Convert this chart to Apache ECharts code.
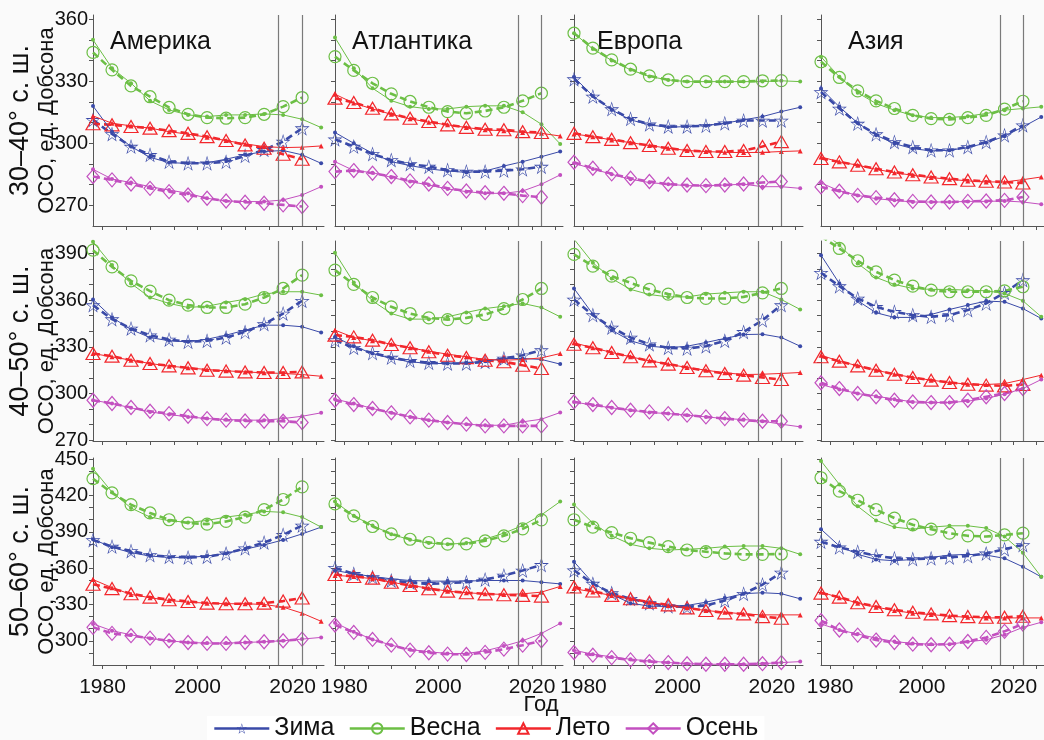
<!DOCTYPE html>
<html><head><meta charset="utf-8">
<script src="https://cdn.jsdelivr.net/npm/echarts@6/dist/echarts.min.js"></script>
<style>html,body{margin:0;padding:0;background:#fff}#c{width:1044px;height:740px}</style>
</head><body><div id="c"></div>
<script>
// ---------- categories / labels ----------
const yearsFit = [1978,1982,1986,1990,1994,1998,2002,2006,2010,2014,2018,2022];
const yearsObs = [1978,1982,1986,1990,1994,1998,2002,2006,2010,2014,2018,2022,2026];
const seasons = ['Зима','Весна','Лето','Осень'];
const regions = ['Америка','Атлантика','Европа','Азия'];
const latBands = ['30–40° с. ш.','40–50° с. ш.','50–60° с. ш.'];
const yLabelVals = [[270,300,330,360],[270,300,330,360,390],[300,330,360,390,420,450]];
const yTickVals = [[270,280,290,300,310,320,330,340,350,360],
                   [270,280,290,300,310,320,330,340,350,360,370,380,390],
                   [290,300,310,320,330,340,350,360,370,380,390,400,410,420,430,440,450]];
const yRanges = [[260,362],[269.5,398],[280,451]];
const xLabelVals = [1980,2000,2020];
const xTickVals = [1980,1985,1990,1995,2000,2005,2010,2015,2020,2025];
const markYears = [2017,2022];

// ---------- values (rows: Зима, Весна, Лето, Осень) ----------
// 30–40° N
const am1Fit = [[311.3,304.5,298.4,294.4,291.1,290.3,290.3,291.1,293.9,296.8,300.8,307.3],
  [343.9,335.5,327.7,322.5,317.3,314.0,312.4,312.1,312.4,314.0,317.7,322.1],
  [309.4,308.9,308.1,307.3,306.1,304.8,303.2,301.3,299.2,297.6,294.7,292.3],
  [283.9,282.3,280.3,278.2,276.6,275.0,273.4,272.1,271.5,271.0,270.2,269.4]];
const am1Obs = [[318.0,305.6,298.4,293.2,290.6,290.3,290.6,292.3,294.4,296.0,296.5,294.4,290.3],
  [350.0,336.3,329.0,320.5,316.1,313.7,312.9,313.7,313.7,314.2,313.7,311.6,307.6],
  [313.2,309.7,308.4,307.3,305.6,304.4,302.9,301.3,299.7,298.4,297.9,298.1,298.7],
  [287.4,282.7,281.0,279.0,277.4,275.8,273.4,272.1,271.8,271.8,272.6,275.0,279.0]];
const at1Fit = [[301.9,298.4,294.8,291.9,290.0,288.7,287.1,286.3,286.3,286.8,287.4,288.7],
  [341.9,335.2,329.0,323.9,320.2,317.4,315.3,314.5,315.6,317.4,320.5,324.2],
  [321.8,319.7,316.9,314.2,312.1,310.5,308.9,307.7,306.8,306.5,305.6,305.2],
  [286.3,286.8,285.5,283.9,281.8,280.3,278.2,276.9,276.1,275.8,274.7,273.9]];
const at1Obs = [[305.2,300.0,295.2,291.1,289.2,287.6,286.6,285.9,286.6,289.0,291.1,293.5,296.0],
  [351.1,336.3,326.6,320.6,317.7,316.6,316.6,317.7,318.1,318.1,315.0,309.2,299.7],
  [323.7,319.4,316.6,314.0,311.8,310.2,308.9,307.6,306.5,306.0,305.2,304.8,303.5],
  [291.1,286.8,285.8,283.5,281.5,279.8,277.9,276.6,275.8,275.8,276.9,280.2,284.7]];
const eu1Fit = [[331.0,322.6,316.5,311.8,309.2,308.1,308.1,308.5,309.7,311.0,311.0,311.0],
  [353.2,346.0,340.3,335.8,332.6,330.6,329.8,329.8,329.8,329.8,330.2,330.3],
  [304.8,303.2,301.9,300.3,298.9,297.6,296.5,296.0,296.0,296.5,298.4,300.8],
  [290.8,287.9,285.2,283.1,281.5,280.2,279.8,279.5,279.8,280.3,281.0,281.5]];
const eu1Obs = [[332.0,322.9,316.1,311.3,308.9,307.7,308.1,308.5,309.7,311.3,312.9,315.3,317.4],
  [353.2,345.6,340.0,335.5,332.3,330.6,329.8,329.8,329.8,329.8,329.8,330.2,329.8],
  [304.5,303.2,301.6,300.3,298.9,297.6,296.5,296.0,295.6,295.5,295.6,296.0,296.3],
  [290.3,287.6,285.0,282.6,281.0,280.2,279.5,279.5,279.8,280.2,279.0,279.0,278.2]];
const as1Fit = [[324.8,316.8,309.5,304.4,300.6,298.2,296.6,296.6,298.2,300.6,303.9,308.7],
  [339.4,331.8,325.3,320.5,316.8,313.5,311.9,311.5,312.4,313.5,316.5,320.3],
  [292.6,291.0,289.4,287.7,286.1,284.8,283.7,282.9,282.1,281.6,281.3,280.8],
  [278.9,276.8,274.8,273.7,272.7,271.9,271.6,271.6,271.9,272.1,272.4,274.0]];
const as1Obs = [[326.5,317.6,309.8,303.9,299.8,297.4,296.3,296.6,297.9,300.2,303.4,307.9,312.7],
  [341.8,332.1,324.4,319.2,316.0,313.5,312.4,312.4,313.1,314.4,316.0,316.8,317.6],
  [293.4,291.0,289.4,287.4,285.8,284.5,283.4,282.6,281.8,281.3,281.3,282.4,283.7],
  [280.8,277.0,274.8,273.2,272.4,271.6,271.6,271.6,271.9,271.9,272.1,271.6,270.5]];
// 40–50° N
const am2Fit = [[356.8,347.8,341.8,337.5,334.7,333.2,333.9,336.0,339.6,344.6,351.4,359.6],
  [392.1,381.4,372.4,365.8,360.0,356.8,355.3,355.3,357.4,361.7,367.5,376.1],
  [325.7,324.0,321.4,319.3,317.8,316.5,315.0,314.4,313.9,313.5,313.5,313.9],
  [295.7,293.6,291.0,288.6,287.1,285.4,283.9,282.9,282.4,282.2,282.2,281.4]];
const am2Obs = [[360.4,348.9,341.1,336.0,333.9,333.2,334.9,337.5,340.7,343.9,343.9,342.9,339.2],
  [397.5,382.5,370.7,361.7,357.9,355.3,356.1,358.5,360.6,363.9,365.4,365.4,363.2],
  [325.7,323.6,321.4,319.3,317.6,316.5,315.4,314.6,313.9,313.3,312.9,312.2,311.1],
  [295.7,293.6,290.8,288.2,286.5,285.0,283.9,283.3,282.9,282.9,283.9,285.4,287.6]];
const at2Fit = [[334.3,329.4,326.1,323.1,321.0,319.7,319.3,319.3,320.4,322.5,324.6,327.9],
  [379.3,370.1,361.7,355.7,351.4,348.6,347.5,348.6,350.8,354.6,360.4,367.5],
  [337.5,336.4,334.3,331.5,329.4,326.8,324.6,323.1,321.4,320.4,318.2,316.1],
  [295.7,292.9,290.4,287.6,285.0,282.9,281.4,280.3,279.2,279.2,279.2,279.2]];
const at2Obs = [[336.4,330.4,325.7,322.5,320.4,319.3,319.3,319.7,320.8,322.5,322.5,321.9,318.9],
  [390.4,371.3,359.6,351.4,347.8,347.8,349.3,352.1,354.6,356.1,357.9,355.3,349.3],
  [340.7,336.0,333.9,331.7,329.4,327.2,325.3,323.6,321.9,321.4,321.9,322.9,325.7],
  [296.4,293.6,290.4,287.6,285.0,282.9,281.4,280.3,279.6,279.6,281.8,283.5,287.8]];
const eu2Fit = [[360.4,350.4,342.4,336.0,331.7,329.4,328.9,330.4,333.9,339.6,347.1,356.8],
  [389.4,381.9,375.4,371.1,366.9,363.9,361.7,361.1,361.1,362.1,364.7,367.5],
  [331.7,329.4,326.4,323.6,321.0,318.9,316.7,314.6,312.9,311.8,310.3,309.0],
  [294.6,292.9,291.0,289.3,288.2,287.1,286.1,285.0,283.9,282.9,282.2,282.2]];
const eu2Obs = [[367.5,351.0,340.7,333.9,330.4,329.4,330.4,332.8,335.4,337.9,338.1,336.0,330.4],
  [399.2,384.0,373.9,366.9,363.6,362.1,362.1,363.9,364.7,365.4,365.4,360.4,354.0],
  [332.6,329.4,326.4,323.6,321.0,318.9,316.7,315.0,313.3,312.2,312.4,312.9,313.5],
  [294.6,292.5,290.8,289.3,287.8,287.1,286.1,285.0,283.9,283.3,282.2,280.3,278.6]];
const as2Fit = [[377.6,369.0,361.1,355.7,352.5,350.4,349.3,350.4,353.6,357.9,364.7,372.9],
  [401.1,393.2,385.3,378.2,372.9,369.0,366.4,365.4,365.4,365.4,366.0,368.6],
  [323.6,320.8,317.8,315.0,312.4,310.3,308.6,307.1,306.0,305.4,304.9,305.8],
  [306.9,303.2,300.0,297.9,295.7,294.6,294.2,294.2,295.7,297.9,300.0,303.2]];
const as2Obs = [[388.9,370.7,359.6,351.9,348.9,348.9,350.8,354.0,356.8,359.4,358.9,354.6,348.2],
  [405.0,395.4,383.6,374.6,370.1,367.5,366.9,366.9,366.4,366.0,364.3,359.6,349.3],
  [324.6,320.8,317.8,315.0,312.4,310.3,308.6,307.1,306.0,305.8,306.4,309.0,311.8],
  [305.8,302.6,300.0,298.3,296.4,294.6,294.2,294.2,295.1,296.8,299.6,303.2,309.0]];
// 50–60° N
const am3Fit = [[383.3,377.8,374.2,370.8,369.4,368.9,369.4,372.2,376.4,381.1,387.5,395.3],
  [433.9,422.2,412.5,405.6,400.0,397.2,396.4,398.6,402.2,408.3,416.7,427.2],
  [346.7,343.1,338.9,336.1,333.9,332.5,331.1,330.6,330.6,331.1,332.8,335.3],
  [311.1,306.1,304.2,302.2,300.0,298.6,297.8,297.8,298.6,299.2,300.0,301.4]];
const am3Obs = [[383.9,377.2,372.8,370.0,368.9,368.9,370.0,372.2,375.6,379.2,383.3,388.3,393.9],
  [442.2,422.8,409.7,402.2,399.2,397.8,399.4,402.2,404.2,406.9,406.1,402.2,393.9],
  [350.6,343.9,338.3,335.6,333.3,331.9,331.1,330.6,330.6,330.0,327.8,322.8,316.1],
  [313.9,308.3,305.0,301.9,300.0,298.6,298.1,298.1,298.6,299.2,300.0,301.4,302.8]];
const at3Fit = [[360.3,355.3,352.6,349.8,348.1,347.0,347.6,348.4,350.6,353.9,358.1,362.7],
  [413.1,403.2,394.4,388.3,383.9,381.2,379.8,380.1,382.6,386.7,392.5,399.9],
  [354.8,353.1,351.8,348.4,345.7,343.0,341.0,339.7,338.8,338.0,337.5,336.9],
  [313.0,306.9,301.1,296.4,292.3,290.1,289.0,288.7,290.4,293.1,296.4,300.0]];
const at3Obs = [[358.1,355.3,353.1,351.2,349.8,349.3,349.3,349.3,349.8,349.8,349.8,348.4,347.0],
  [415.0,403.2,395.2,388.1,383.4,380.7,379.8,380.7,384.0,388.9,395.2,404.0,415.0],
  [354.0,353.1,351.2,348.4,345.7,343.5,341.0,339.7,338.8,338.3,338.8,340.2,344.9],
  [314.9,307.5,301.1,296.4,292.8,290.9,289.5,289.5,291.7,295.6,300.0,306.1,314.3]];
const eu3Fit = [[358.3,347.2,339.4,334.7,331.1,328.6,327.8,329.2,333.3,338.9,346.4,356.4],
  [400.0,393.9,389.4,384.7,381.1,377.8,375.0,373.6,372.2,371.4,371.4,371.7],
  [344.4,341.1,337.5,334.7,331.9,329.7,327.2,325.0,323.1,322.2,320.0,318.6],
  [290.3,288.1,286.1,284.2,282.8,282.0,281.1,280.6,280.6,280.6,281.1,282.0]];
const eu3Obs = [[365.3,347.8,338.3,331.1,328.6,328.3,329.2,331.9,335.3,338.9,339.7,338.9,334.7],
  [412.5,397.2,386.7,379.7,376.4,375.0,375.6,376.4,377.8,378.3,378.3,376.4,371.4],
  [343.1,340.3,337.5,334.7,331.9,329.2,327.2,325.0,323.6,322.2,321.4,321.4,321.4],
  [292.2,288.9,286.7,284.7,283.3,282.0,281.1,280.6,280.6,280.6,281.1,282.0,282.8]];
const as3Fit = [[381.9,377.2,373.6,370.3,368.1,367.5,368.1,368.9,370.0,372.2,375.6,379.2],
  [434.7,423.6,416.1,408.3,401.4,395.8,392.2,388.9,386.7,386.1,387.5,388.9],
  [339.4,336.1,331.4,328.3,325.6,323.6,322.2,320.8,320.0,319.4,319.4,320.3],
  [316.7,308.9,304.7,300.6,298.6,297.2,296.7,297.2,299.4,302.8,307.8,313.9]];
const as3Obs = [[392.2,378.3,371.4,367.2,366.1,367.2,368.9,370.8,371.4,370.8,368.1,361.1,352.8],
  [448.6,429.2,411.1,399.4,393.9,392.2,393.9,395.0,395.0,393.1,386.1,372.8,352.8],
  [340.3,335.6,331.1,327.8,325.0,322.8,321.7,320.3,319.4,318.9,318.9,318.9,318.9],
  [313.9,308.9,305.6,302.2,299.4,297.8,297.2,297.2,299.2,300.8,305.0,311.1,315.3]];

const fitPanels = [[am1Fit,at1Fit,eu1Fit,as1Fit],[am2Fit,at2Fit,eu2Fit,as2Fit],[am3Fit,at3Fit,eu3Fit,as3Fit]];
const obsPanels = [[am1Obs,at1Obs,eu1Obs,as1Obs],[am2Obs,at2Obs,eu2Obs,as2Obs],[am3Obs,at3Obs,eu3Obs,as3Obs]];

// ---------- styling / layout ----------
const FONT = '"Liberation Sans", Arial, sans-serif';
const colors = ['#3a4aa8','#6cbf45','#f2272c','#c350c0'];
// hollow star: outer outline + reversed inner outline (non-zero rule leaves a hole)
const STAR = 'path://M50,0 L61.8,36.2 L100,36.2 L69.1,58.6 L80.9,95 L50,72.5 L19.1,95 L30.9,58.6 L0,36.2 L38.2,36.2 Z ' +
             'M50,11 L41.5,41.6 L13.5,41.6 L36,58 L27.5,84.5 L50,68 L72.5,84.5 L64,58 L86.5,41.6 L58.5,41.6 Z';
const bigSym = [STAR,'circle','triangle','diamond'];
const bigSize = [[15,15],12,[14,12],[12,14]];
const smallSym = ['circle','circle','triangle','circle'];
const colLeft = [93,335,574,821];
const colWidth = [231,228,229,231];
const rowTop = [15,241,458];
const rowHeight = [211,200,207];

const grids = [], xAxes = [], yAxes = [], series = [];
for (let r = 0; r < 3; r++) {
  for (let c = 0; c < 4; c++) {
    const idx = r * 4 + c;
    grids.push({left: colLeft[c], top: rowTop[r], width: colWidth[c], height: rowHeight[r], containLabel: false});
    xAxes.push({
      type: 'value', gridIndex: idx, min: 1978, max: 2026.6,
      axisLine: {show: true, onZero: false, lineStyle: {color: '#555', width: 1}},
      axisTick: {show: true, customValues: xTickVals, length: 4, lineStyle: {color: '#555'}},
      axisLabel: {show: r === 2, customValues: xLabelVals, fontSize: 21, color: '#111', margin: 12,
                  fontFamily: FONT, formatter: v => String(v)},
      splitLine: {show: false}
    });
    yAxes.push({
      type: 'value', gridIndex: idx, min: yRanges[r][0], max: yRanges[r][1],
      axisLine: {show: true, onZero: false, lineStyle: {color: '#555', width: 1}},
      axisTick: {show: true, customValues: yTickVals[r], length: 4, lineStyle: {color: '#555'}},
      axisLabel: {show: c === 0, customValues: yLabelVals[r], fontSize: 20, color: '#111', margin: 5,
                  fontFamily: FONT, formatter: v => String(v)},
      splitLine: {show: false}
    });
    const fit = fitPanels[r][c], obs = obsPanels[r][c];
    for (let s = 0; s < 4; s++) {
      const isStar = s === 0;
      const ser = {
        name: seasons[s], type: 'line', xAxisIndex: idx, yAxisIndex: idx,
        data: yearsFit.map((y, i) => [y, fit[s][i]]),
        symbol: bigSym[s], symbolSize: bigSize[s], symbolKeepAspect: false,
        lineStyle: {color: colors[s], width: 2.6, type: [7, 4]},
        itemStyle: isStar ? {color: colors[s], borderWidth: 0}
                          : {color: 'rgba(255,255,255,0)', borderColor: colors[s], borderWidth: 1.2},
        z: 3, silent: true, animation: false
      };
      if (s === 0) {
        ser.markLine = {
          silent: true, symbol: 'none', animation: false,
          label: {show: false},
          lineStyle: {color: '#7a7a7a', width: 1.2, type: 'solid'},
          data: markYears.map(v => ({xAxis: v}))
        };
      }
      series.push(ser);
    }
    for (let s = 0; s < 4; s++) {
      series.push({
        name: seasons[s] + ' ряд', type: 'line', xAxisIndex: idx, yAxisIndex: idx,
        data: yearsObs.map((y, i) => [y, obs[s][i]]),
        symbol: smallSym[s], symbolSize: s === 2 ? 5 : 4,
        lineStyle: {color: colors[s], width: 1},
        itemStyle: {color: colors[s]},
        z: 4, silent: true, animation: false
      });
    }
  }
}

const graphics = [];
const titleLeft = [110, 352, 597, 848];
regions.forEach((t, c) => graphics.push({type: 'text', left: titleLeft[c], top: 30,
  style: {text: t, font: '25px ' + FONT, fill: '#111'}}));
latBands.forEach((t, r) => {
  const cy = rowTop[r] + rowHeight[r] / 2;
  graphics.push({type: 'text', x: 21, y: cy, rotation: Math.PI / 2,
    style: {text: t, font: '27px ' + FONT, fill: '#111', align: 'center', verticalAlign: 'middle'}});
  graphics.push({type: 'text', x: 47, y: cy, rotation: Math.PI / 2,
    style: {text: 'ОСО, ед. Добсона', font: '22px ' + FONT, fill: '#111', align: 'center', verticalAlign: 'middle'}});
});
graphics.push({type: 'text', x: 541, y: 705,
  style: {text: 'Год', font: '22px ' + FONT, fill: '#111', align: 'center', verticalAlign: 'middle'}});

const chart = echarts.init(document.getElementById('c'), null, {renderer: 'canvas'});
chart.setOption({
  backgroundColor: '#fafafa',
  animation: false,
  grid: grids, xAxis: xAxes, yAxis: yAxes, series: series,
  legend: {
    data: seasons, left: 207, top: 716, itemWidth: 55, itemHeight: 13, itemGap: 14,
    backgroundColor: '#ffffff', padding: [0, 6],
    lineStyle: {type: 'solid', width: 2.6},
    textStyle: {fontSize: 25, color: '#111', fontFamily: FONT},
    selectedMode: false
  },
  graphic: graphics
});
</script></body></html>
